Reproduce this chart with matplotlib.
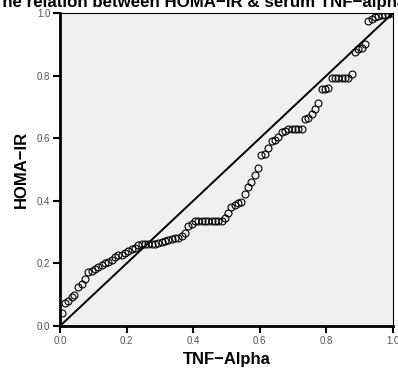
import matplotlib
matplotlib.use('Agg')
import matplotlib.pyplot as plt

# P-P plot points
tnf = [0.005, 0.015, 0.025, 0.035, 0.043, 0.055, 0.065, 0.075, 0.085, 0.095,
       0.105, 0.115, 0.125, 0.135, 0.145, 0.155, 0.165, 0.175, 0.185, 0.195,
       0.205, 0.215, 0.225, 0.235, 0.245, 0.255, 0.265, 0.275, 0.285, 0.295,
       0.305, 0.315, 0.325, 0.335, 0.345, 0.355, 0.365, 0.375, 0.385, 0.395,
       0.405, 0.415, 0.425, 0.435, 0.445, 0.455, 0.465, 0.475, 0.485,
       0.495, 0.505, 0.515, 0.525, 0.535, 0.545, 0.555, 0.565, 0.575, 0.585,
       0.595, 0.605, 0.615, 0.626, 0.636, 0.646, 0.656, 0.666, 0.676,
       0.686, 0.696, 0.706, 0.716, 0.726,
       0.736, 0.746, 0.756, 0.766, 0.776, 0.786, 0.796, 0.806,
       0.816, 0.826, 0.836, 0.846, 0.856, 0.866,
       0.876, 0.886, 0.896, 0.906, 0.916, 0.926, 0.936, 0.946, 0.956,
       0.966, 0.976, 0.986, 0.996]
homa = [0.040, 0.075, 0.081, 0.094, 0.099, 0.124, 0.134, 0.149, 0.173, 0.177,
        0.181, 0.188, 0.195, 0.200, 0.205, 0.212, 0.220, 0.226, 0.228, 0.232,
        0.240, 0.245, 0.250, 0.258, 0.262, 0.263, 0.263, 0.262, 0.262, 0.266,
        0.269, 0.272, 0.276, 0.279, 0.280, 0.281, 0.287, 0.298, 0.319, 0.326,
        0.335, 0.336, 0.336, 0.336, 0.336, 0.336, 0.336, 0.336, 0.336,
        0.344, 0.362, 0.379, 0.387, 0.394, 0.397, 0.422, 0.445, 0.459, 0.482,
        0.504, 0.546, 0.549, 0.568, 0.591, 0.594, 0.605, 0.621, 0.624,
        0.629, 0.629, 0.629, 0.629, 0.629,
        0.660, 0.663, 0.677, 0.692, 0.713, 0.756, 0.758, 0.759,
        0.793, 0.793, 0.793, 0.793, 0.793, 0.793,
        0.804, 0.876, 0.884, 0.889, 0.900, 0.975, 0.981, 0.986, 0.990,
        0.993, 0.995, 0.997, 0.999]
ticks = [0.0, 0.2, 0.4, 0.6, 0.8, 1.0]
tick_labels = ['0.0', '0.2', '0.4', '0.6', '0.8', '1.0']

plt.rcParams['font.family'] = ['Liberation Sans', 'DejaVu Sans']

fig = plt.figure(figsize=(3.98, 3.69), dpi=100)
ax = fig.add_axes([60/398, 43/369, 333/398, 313/369])
ax.set_facecolor('#f0f0f0')

ax.plot([0, 1], [0, 1], color='black', lw=1.4, zorder=2)
ax.plot(tnf, homa, 'o', mfc='none', mec='black', ms=5, mew=0.8, zorder=3)

ax.set_xlim(0, 1)
ax.set_ylim(0, 1)
ax.set_xticks(ticks)
ax.set_xticklabels(tick_labels)
ax.set_yticks(ticks)
ax.set_yticklabels(tick_labels)
ax.tick_params(direction='out', length=5, width=1.5, color='black',
               labelsize=7, labelcolor='#555555', pad=2)

for s in ['left', 'bottom']:
    ax.spines[s].set_linewidth(2)
for s in ['top', 'right']:
    ax.spines[s].set_linewidth(0.8)

ax.set_xlabel('TNF\u2212Alpha', fontsize=12, fontweight='bold', va='baseline')
ax.xaxis.set_label_coords(0.5, -38/313)
ax.set_ylabel('HOMA\u2212IR', fontsize=12, fontweight='bold', labelpad=6)
fig.text(0.5, 1 - 7/369, 'The relation between HOMA\u2212IR & serum TNF\u2212alpha',
         ha='center', va='baseline', fontsize=12.2, fontweight='bold')

fig.savefig('out.png', dpi=100)
